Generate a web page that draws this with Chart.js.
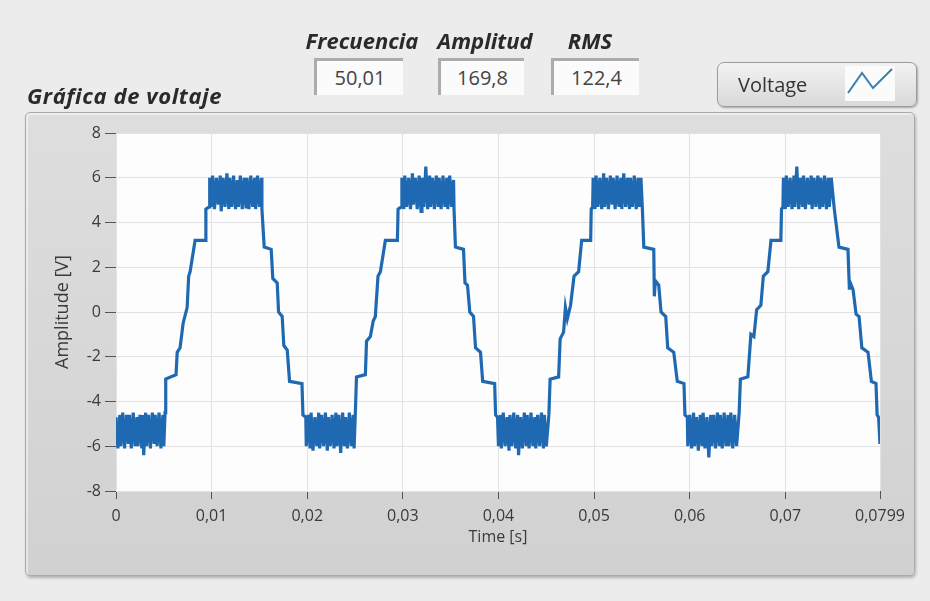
<!DOCTYPE html>
<html lang="es">
<head>
<meta charset="utf-8">
<title>Gráfica de voltaje</title>
<script src="https://cdn.jsdelivr.net/npm/chart.js@4.4.1/dist/chart.umd.min.js"></script>
<style>
  html, body { margin: 0; padding: 0; }
  body {
    width: 930px; height: 601px; position: relative; overflow: hidden;
    background: #ececec;
    font-family: "Open Sans", "DejaVu Sans", sans-serif;
  }
  .panel {
    position: absolute; left: 25px; top: 112px; width: 888px; height: 462px;
    border: 1px solid #aaaaaa; border-radius: 5px;
    background: linear-gradient(#dedede, #d1d1d1);
    box-shadow: 1px 2px 3px rgba(0,0,0,0.25), inset 2px 2px 0 rgba(255,255,255,0.45);
  }
  #chart { position: absolute; left: 0; top: 0; }
  .caption {
    position: absolute; font-weight: bold; font-style: italic; font-size: 22px;
    line-height: 22px; color: #2a2a2a; white-space: nowrap;
  }
  .caption.centered { transform: translateX(-50%); }
  .readout {
    position: absolute; top: 58px; height: 34px;
    background: #fbfbfb; border-top: 3px solid #acacac; border-left: 3px solid #acacac;
    font-size: 20px; line-height: 34px; color: #444444; text-align: center;
  }
  .legend {
    position: absolute; left: 717px; top: 62px; width: 198px; height: 43px;
    border: 1px solid #9c9c9c; border-radius: 7px;
    background: linear-gradient(#f2f2f2, #d9d9d9);
    box-shadow: 1px 1px 2px rgba(0,0,0,0.3);
  }
  .legend span {
    position: absolute; left: 20px; top: 0; line-height: 43px;
    font-size: 20px; color: #333333;
  }
  .legend svg { position: absolute; left: 127px; top: 3px; background: #fbfbfb; }
</style>
</head>
<body>
<div class="panel"></div>
<canvas id="chart" width="930" height="601"></canvas>

<div class="caption" id="graphTitle" style="left:27px; top:84px; letter-spacing:0.6px;"></div>
<div id="readouts"></div>
<div class="legend">
  <span id="legendLabel"></span>
  <svg width="50" height="35" viewBox="0 0 50 35">
    <polyline points="3,27 17,7 28,22 47,3" fill="none" stroke="#3b7fb0" stroke-width="2"/>
  </svg>
</div>

<script>
// ---- Panel texts ----
const graphTitle = 'Gráfica de voltaje';
const seriesName = 'Voltage';
const readoutNames = ['Frecuencia', 'Amplitud', 'RMS'];
const readoutValues = ['50,01', '169,8', '122,4'];

// ---- Axes ----
const xTickValues = [0, 0.01, 0.02, 0.03, 0.04, 0.05, 0.06, 0.07, 0.0799];
const xTickLabels = ['0', '0,01', '0,02', '0,03', '0,04', '0,05', '0,06', '0,07', '0,0799'];
const yTickValues = [-8, -6, -4, -2, 0, 2, 4, 6, 8];
const yTickLabels = ['-8', '-6', '-4', '-2', '0', '2', '4', '6', '8'];

// ---- Measured voltage, [time s, amplitude V], one array per segment ----
const trough0 = [[0.0000,-4.7],[0.0002,-6.1],[0.0004,-4.6],[0.0005,-6.0],[0.0007,-4.5],[0.0009,-6.1],[0.0011,-4.6],[0.0013,-5.9],[0.0014,-4.6],[0.0016,-6.1],[0.0018,-4.5],[0.0020,-6.0],[0.0022,-4.7],[0.0023,-6.0],[0.0025,-4.6],[0.0027,-6.1],[0.0028,-4.6],[0.0029,-6.4],[0.0031,-4.5],[0.0032,-6.0],[0.0034,-4.6],[0.0036,-6.1],[0.0038,-4.5],[0.0040,-5.9],[0.0041,-4.6],[0.0043,-6.0],[0.0045,-4.5],[0.0047,-6.1],[0.0049,-4.6],[0.0050,-6.0],[0.00513,-4.5]];
const rise1 = [[0.00520,-3.0],[0.00628,-2.8],[0.00640,-1.8],[0.00670,-1.6],[0.00702,-0.5],[0.00744,0.2],[0.00760,1.6],[0.00775,1.8],[0.00827,3.2],[0.00932,3.2],[0.00940,4.6],[0.00975,4.7]];
const crest1 = [[0.0098,6.0],[0.0100,4.7],[0.0101,6.1],[0.0103,4.6],[0.0105,6.0],[0.0107,4.8],[0.0109,6.1],[0.0110,4.5],[0.0112,6.0],[0.0114,4.7],[0.0116,6.2],[0.0118,4.6],[0.0119,6.0],[0.0121,4.7],[0.0123,6.1],[0.0125,4.6],[0.0127,5.9],[0.0128,4.7],[0.0130,6.1],[0.0132,4.6],[0.0134,6.0],[0.0136,4.7],[0.0137,6.0],[0.0139,4.6],[0.0141,6.1],[0.0143,4.7],[0.0145,6.0],[0.0146,4.6],[0.0148,6.1],[0.0150,4.7],[0.0152,6.0],[0.01526,4.6]];
const fall1 = [[0.01550,2.9],[0.01623,2.8],[0.01640,1.5],[0.01686,1.3],[0.01700,0.0],[0.01738,-0.2],[0.01755,-1.5],[0.01791,-1.7],[0.01815,-3.1],[0.01945,-3.2],[0.01955,-4.6],[0.01985,-4.7]];
const trough1 = [[0.0199,-6.0],[0.0201,-4.6],[0.0203,-6.1],[0.0204,-4.5],[0.0206,-6.2],[0.0208,-4.7],[0.0210,-6.0],[0.0212,-4.5],[0.0213,-6.1],[0.0215,-4.6],[0.0217,-6.0],[0.0219,-4.5],[0.0221,-6.2],[0.0222,-4.7],[0.0224,-6.0],[0.0226,-4.6],[0.0228,-6.1],[0.0230,-4.5],[0.0231,-6.0],[0.0233,-4.6],[0.0235,-6.3],[0.0237,-4.5],[0.0239,-6.0],[0.0240,-4.7],[0.0242,-6.1],[0.0244,-4.5],[0.0246,-6.0],[0.0248,-4.6],[0.0249,-6.1],[0.02503,-4.5]];
const rise2 = [[0.02515,-2.9],[0.02608,-2.8],[0.02620,-1.3],[0.02660,-1.1],[0.02690,-0.4],[0.02712,-0.2],[0.02740,1.6],[0.02765,1.8],[0.02817,3.2],[0.02943,3.2],[0.02950,4.6],[0.02985,4.7]];
const crest2 = [[0.0299,6.0],[0.0301,4.6],[0.0302,6.1],[0.0304,4.7],[0.0306,6.0],[0.0308,4.6],[0.0310,6.2],[0.0311,4.8],[0.0313,6.0],[0.0315,4.6],[0.0317,6.1],[0.0319,4.5],[0.0320,6.0],[0.0322,4.7],[0.0324,6.5],[0.0326,4.6],[0.0328,6.1],[0.0329,4.7],[0.0331,6.0],[0.0333,4.6],[0.0335,6.1],[0.0337,4.7],[0.0338,6.0],[0.0340,4.6],[0.0342,6.1],[0.0344,4.7],[0.0346,6.0],[0.0347,4.6],[0.0349,6.1],[0.0351,4.7],[0.0353,5.9],[0.03535,4.6]];
const fall2 = [[0.03550,2.9],[0.03634,2.8],[0.03650,1.3],[0.03676,1.2],[0.03700,0.0],[0.03739,-0.2],[0.03760,-1.6],[0.03812,-1.8],[0.03835,-3.1],[0.03960,-3.2],[0.03970,-4.6],[0.03990,-4.7]];
const trough2 = [[0.0400,-6.0],[0.0402,-4.6],[0.0403,-6.1],[0.0405,-4.5],[0.0407,-6.0],[0.0409,-4.7],[0.0411,-6.2],[0.0412,-4.6],[0.0414,-6.0],[0.0416,-4.5],[0.0418,-6.1],[0.0420,-4.6],[0.0421,-6.4],[0.0423,-4.7],[0.0425,-6.1],[0.0427,-4.5],[0.0429,-6.0],[0.0430,-4.6],[0.0432,-6.1],[0.0434,-4.5],[0.0436,-6.0],[0.0438,-4.7],[0.0439,-6.1],[0.0441,-4.6],[0.0443,-6.0],[0.0445,-4.5],[0.0447,-6.1],[0.0448,-4.6],[0.0450,-6.0],[0.04527,-4.6]];
const rise3 = [[0.04540,-3.0],[0.04629,-2.9],[0.04645,-1.2],[0.04681,-0.9],[0.04700,0.2],[0.04720,-0.3],[0.04754,0.3],[0.04790,1.6],[0.04838,1.8],[0.04870,3.2],[0.04964,3.2],[0.04970,4.6],[0.04985,4.7]];
const crest3 = [[0.0499,6.0],[0.0501,4.6],[0.0502,6.1],[0.0504,4.7],[0.0506,6.0],[0.0508,4.6],[0.0510,6.2],[0.0511,4.7],[0.0513,6.0],[0.0515,4.6],[0.0517,6.1],[0.0519,4.8],[0.0520,6.0],[0.0522,4.6],[0.0524,6.1],[0.0526,4.7],[0.0528,6.0],[0.0529,4.6],[0.0531,6.2],[0.0533,4.7],[0.0535,6.0],[0.0537,4.6],[0.0538,6.0],[0.0540,4.7],[0.0542,6.1],[0.0544,4.6],[0.0546,6.0],[0.0547,4.7],[0.0549,6.0],[0.05505,4.6]];
const fall3 = [[0.05520,2.9],[0.05624,2.8],[0.05630,0.7],[0.05640,1.4],[0.05676,1.2],[0.05700,0.0],[0.05749,-0.2],[0.05770,-1.6],[0.05833,-1.8],[0.05870,-3.1],[0.05940,-3.2],[0.05950,-4.6],[0.05975,-4.7]];
const trough3 = [[0.0598,-6.0],[0.0600,-4.6],[0.0602,-6.1],[0.0604,-4.5],[0.0605,-6.0],[0.0607,-4.7],[0.0609,-6.2],[0.0611,-4.6],[0.0613,-6.0],[0.0614,-4.5],[0.0616,-6.1],[0.0618,-4.7],[0.0620,-6.5],[0.0622,-4.6],[0.0623,-6.0],[0.0625,-4.6],[0.0627,-6.1],[0.0629,-4.5],[0.0631,-6.0],[0.0632,-4.6],[0.0634,-6.1],[0.0636,-4.5],[0.0638,-6.0],[0.0640,-4.6],[0.0641,-6.0],[0.0643,-4.5],[0.0645,-6.1],[0.0647,-4.6],[0.0649,-6.0],[0.06517,-4.5]];
const rise4 = [[0.06530,-3.0],[0.06608,-2.9],[0.06630,-1.6],[0.06640,-1.0],[0.06671,-1.1],[0.06700,0.1],[0.06744,0.3],[0.06770,1.6],[0.06817,1.8],[0.06850,3.2],[0.06953,3.2],[0.06960,4.6],[0.06975,4.7]];
const crest4 = [[0.0698,6.0],[0.0700,4.6],[0.0701,6.1],[0.0703,4.7],[0.0705,6.0],[0.0707,4.6],[0.0709,6.1],[0.0710,4.7],[0.0712,6.5],[0.0714,4.6],[0.0716,6.0],[0.0718,4.7],[0.0719,6.1],[0.0721,4.6],[0.0723,6.0],[0.0725,4.8],[0.0727,6.1],[0.0728,4.6],[0.0730,6.0],[0.0732,4.7],[0.0734,6.1],[0.0736,4.6],[0.0737,6.0],[0.0739,4.7],[0.0741,6.1],[0.0743,4.6],[0.0745,6.0],[0.0746,4.7],[0.0748,6.0],[0.07512,4.6]];
const fall4 = [[0.07561,2.9],[0.07655,2.8],[0.07670,1.0],[0.07680,1.3],[0.07708,1.0],[0.07740,-0.1],[0.07771,-0.2],[0.07800,-1.6],[0.07865,-1.8],[0.07900,-3.1],[0.07948,-3.2],[0.07960,-4.6],[0.07975,-4.7],[0.0799,-5.9]];

const segments = [trough0, rise1, crest1, fall1, trough1, rise2, crest2, fall2,
                  trough2, rise3, crest3, fall3, trough3, rise4, crest4, fall4];
const samples = segments.flat().map(([t, v]) => ({ x: t, y: v }));

// ---- Panel header ----
document.getElementById('graphTitle').textContent = graphTitle;
document.getElementById('legendLabel').textContent = seriesName;
const readoutBoxes = [
  { captionX: 362, left: 314, width: 86 },
  { captionX: 485, left: 438, width: 83 },
  { captionX: 590, left: 551, width: 85 }
];
const readoutHost = document.getElementById('readouts');
readoutNames.forEach((name, i) => {
  const cap = document.createElement('div');
  cap.className = 'caption centered';
  cap.style.left = readoutBoxes[i].captionX + 'px';
  cap.style.top = '29px';
  cap.textContent = name;
  readoutHost.appendChild(cap);
  const box = document.createElement('div');
  box.className = 'readout';
  box.style.left = readoutBoxes[i].left + 'px';
  box.style.width = readoutBoxes[i].width + 'px';
  box.textContent = readoutValues[i];
  readoutHost.appendChild(box);
});

// ---- Chart ----
Chart.defaults.font.family = '"Open Sans", "DejaVu Sans", sans-serif';

const plotBackground = {
  id: 'plotBackground',
  beforeDraw(chart) {
    const { ctx, chartArea: a } = chart;
    ctx.save();
    ctx.fillStyle = '#fdfdfd';
    ctx.fillRect(a.left, a.top, a.right - a.left, a.bottom - a.top);
    ctx.restore();
  }
};

new Chart(document.getElementById('chart'), {
  type: 'line',
  data: {
    datasets: [{
      label: seriesName,
      data: samples,
      borderColor: '#1f69b2',
      borderWidth: 3.2,
      borderJoinStyle: 'miter',
      pointRadius: 0,
      tension: 0,
      fill: false
    }]
  },
  options: {
    responsive: false,
    animation: false,
    events: [],
    layout: { padding: { left: 0, top: 133, right: 50, bottom: 0 } },
    plugins: { legend: { display: false }, tooltip: { enabled: false } },
    scales: {
      x: {
        type: 'linear',
        min: 0,
        max: 0.0799,
        afterBuildTicks: (s) => { s.ticks = xTickValues.map(v => ({ value: v })); },
        afterFit: (s) => { s.height = 110; },
        ticks: {
          autoSkip: false, maxRotation: 0, padding: 8,
          color: '#3a3a3a', font: { size: 16 },
          callback: (v, i) => xTickLabels[i]
        },
        grid: { color: '#e2e2e2', tickColor: '#555555', tickLength: 8 },
        border: { display: false },
        title: {
          display: true, text: 'Time [s]', color: '#3a3a3a',
          font: { size: 16 }, padding: { top: 0, bottom: 54 }
        }
      },
      y: {
        min: -8,
        max: 8,
        afterBuildTicks: (s) => { s.ticks = yTickValues.map(v => ({ value: v })); },
        afterFit: (s) => { s.width = 116; },
        ticks: {
          padding: 4, color: '#3a3a3a', font: { size: 16 },
          callback: (v, i) => yTickLabels[i]
        },
        grid: { color: '#e2e2e2', tickColor: '#555555', tickLength: 11 },
        border: { display: false },
        title: {
          display: true, text: 'Amplitude [V]', color: '#3a3a3a',
          font: { size: 18 }, padding: { top: 52, bottom: 0 }
        }
      }
    }
  },
  plugins: [plotBackground]
});
</script>
</body>
</html>
